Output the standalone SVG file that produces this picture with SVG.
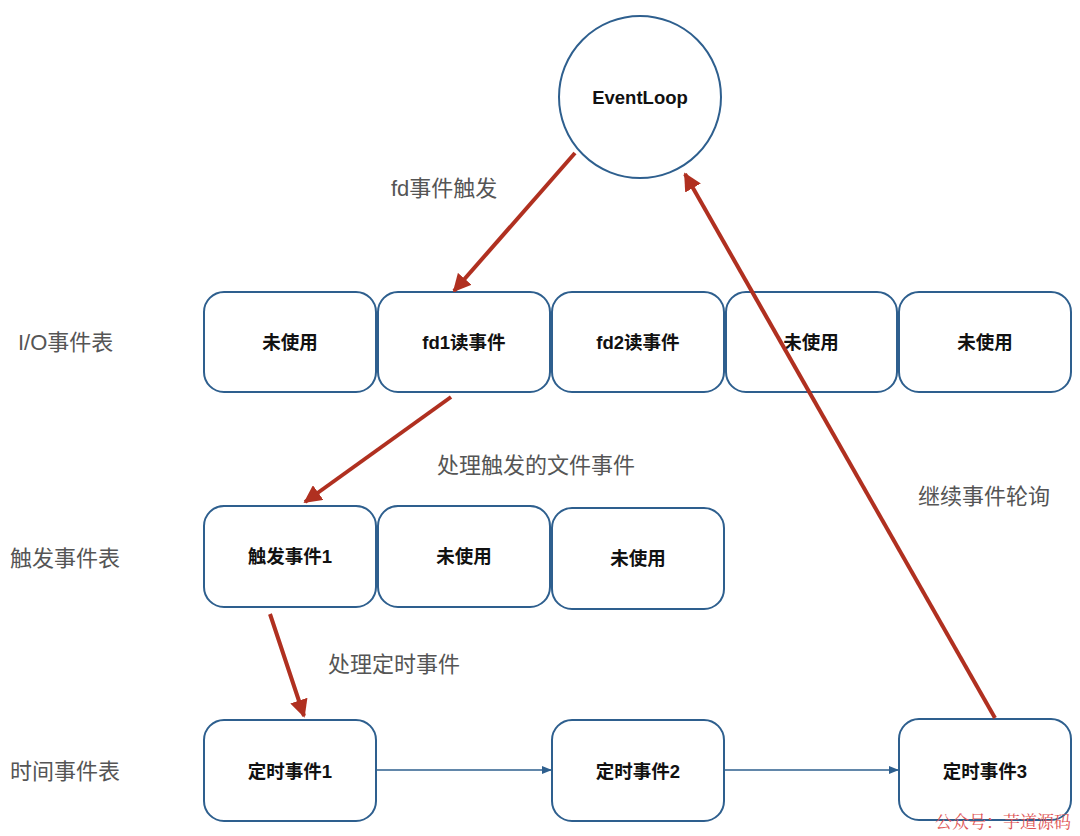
<svg xmlns="http://www.w3.org/2000/svg" width="1080" height="836" viewBox="0 0 1080 836">
<style>
.box{fill:#fff;stroke:#2e5f8e;stroke-width:2}
.bt{font-family:"Liberation Sans","Noto Sans CJK SC",sans-serif;font-size:18.5px;font-weight:bold;fill:#111;text-anchor:middle;dominant-baseline:central}
.lb{font-family:"Liberation Sans","Noto Sans CJK SC",sans-serif;font-size:22px;fill:#555;dominant-baseline:central}
.red{stroke:#b03020;stroke-width:4;fill:none}
.blue{stroke:#2e5f8e;stroke-width:1.5;fill:none}
</style>
<defs>
<marker id="ra" viewBox="0 0 10 10" refX="9" refY="5" markerWidth="4.5" markerHeight="4.5" orient="auto" markerUnits="strokeWidth"><path d="M0,0 L10,5 L0,10 z" fill="#b03020"/></marker>
<marker id="ba" viewBox="0 0 10 10" refX="9" refY="5" markerWidth="7" markerHeight="7" orient="auto" markerUnits="strokeWidth"><path d="M0,1 L10,5 L0,9 z" fill="#2e5f8e"/></marker>
</defs>
<rect width="1080" height="836" fill="#fff"/>
<g id="eventloop"><circle cx="640" cy="97" r="81" class="box"/><text x="640" y="97" class="bt">EventLoop</text></g>
<g id="io1"><rect x="204" y="292" width="172" height="100" rx="20" class="box"/><text x="290" y="342" class="bt">未使用</text></g>
<g id="io2"><rect x="378" y="292" width="172" height="100" rx="20" class="box"/><text x="464" y="342" class="bt">fd1读事件</text></g>
<g id="io3"><rect x="552" y="292" width="172" height="100" rx="20" class="box"/><text x="638" y="342" class="bt">fd2读事件</text></g>
<g id="io4"><rect x="726" y="292" width="171" height="100" rx="20" class="box"/><text x="811" y="342" class="bt">未使用</text></g>
<g id="io5"><rect x="899" y="292" width="172" height="100" rx="20" class="box"/><text x="985" y="342" class="bt">未使用</text></g>
<g id="tr1"><rect x="204" y="506" width="172" height="101" rx="20" class="box"/><text x="290" y="556" class="bt">触发事件1</text></g>
<g id="tr2"><rect x="378" y="506" width="172" height="101" rx="20" class="box"/><text x="464" y="556" class="bt">未使用</text></g>
<g id="tr3"><rect x="552" y="508" width="172" height="101" rx="20" class="box"/><text x="638" y="558" class="bt">未使用</text></g>
<g id="tm1"><rect x="204" y="720" width="172" height="101" rx="20" class="box"/><text x="290" y="771" class="bt">定时事件1</text></g>
<g id="tm2"><rect x="552" y="720" width="172" height="101" rx="20" class="box"/><text x="638" y="771" class="bt">定时事件2</text></g>
<g id="tm3"><rect x="899" y="719" width="172" height="101" rx="20" class="box"/><text x="985" y="771" class="bt">定时事件3</text></g>
<g id="labels">
<text x="18" y="342" class="lb">I/O事件表</text>
<text x="10" y="558" class="lb">触发事件表</text>
<text x="10" y="771" class="lb">时间事件表</text>
<text x="391" y="188" class="lb">fd事件触发</text>
<text x="437" y="465" class="lb">处理触发的文件事件</text>
<text x="328" y="664" class="lb">处理定时事件</text>
<text x="918" y="496" class="lb">继续事件轮询</text>
</g>
<g id="connectors">
<line x1="575" y1="153" x2="454" y2="291" class="red" marker-end="url(#ra)"/>
<line x1="451" y1="397" x2="305" y2="502" class="red" marker-end="url(#ra)"/>
<line x1="270" y1="614" x2="304" y2="716" class="red" marker-end="url(#ra)"/>
<line x1="995" y1="718" x2="685" y2="174" class="red" marker-end="url(#ra)"/>
<line x1="376" y1="770" x2="551" y2="770" class="blue" marker-end="url(#ba)"/>
<line x1="724" y1="770" x2="898" y2="770" class="blue" marker-end="url(#ba)"/>
</g>
<text x="935" y="820" font-family="Noto Serif CJK SC,Noto Sans CJK SC,serif" font-size="17" fill="#e05555" dominant-baseline="central">公众号：芋道源码</text>
</svg>
